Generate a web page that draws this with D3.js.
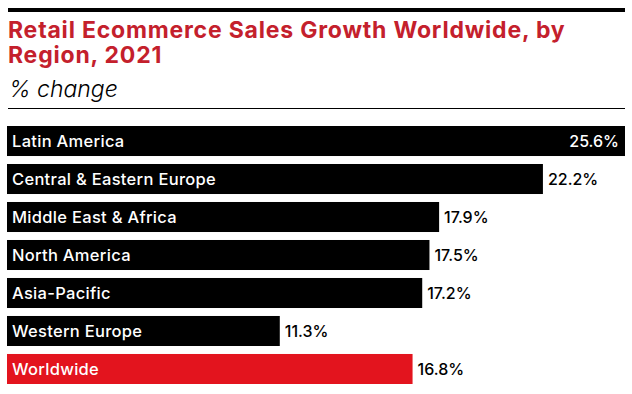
<!DOCTYPE html>
<html>
<head>
<meta charset="utf-8">
<script src="https://cdn.jsdelivr.net/npm/d3@7"></script>
<style>
  body { margin: 0; background: #fff; }
  svg { display: block; font-family: Inter, "Noto Sans", sans-serif; }
</style>
</head>
<body>
<div id="chart"></div>
<script>
const regions = ['Latin America', 'Central & Eastern Europe', 'Middle East & Africa',
  'North America', 'Asia-Pacific', 'Western Europe', 'Worldwide']
const growth = [25.6, 22.2, 17.9, 17.5, 17.2, 11.3, 16.8]

const width = 632
const height = 394
const RED = '#e3141e'
const TITLE_RED = '#c4202c'

const svg = d3.select('#chart')
  .append('svg')
    .attr('width', width)
    .attr('height', height)

// header
svg.append('rect')
  .attr('x', 8).attr('y', 8)
  .attr('width', 617).attr('height', 4)
  .attr('fill', '#000')

const title = svg.append('text')
  .attr('x', 8)
  .attr('fill', TITLE_RED)
  .style('font-size', '23px')
  .style('font-weight', 700)
  .style('letter-spacing', '0.8px')
title.append('tspan').attr('x', 8).attr('y', 38).text('Retail Ecommerce Sales Growth Worldwide, by')
title.append('tspan').attr('x', 8).attr('y', 63).text('Region, 2021')

svg.append('text')
  .attr('x', 9).attr('y', 97)
  .style('font-size', '23px')
  .style('font-style', 'italic')
  .style('font-weight', 300)
  .text('% change')

svg.append('rect')
  .attr('x', 8).attr('y', 108)
  .attr('width', 617).attr('height', 1)
  .attr('fill', '#000')

// bars
const data = regions.map((r, i) => ({ region: r, value: growth[i] }))

const x = d3.scaleLinear()
  .domain([0, 25.6])
  .range([7, 625])

const y = d3.scaleBand()
  .domain(regions)
  .range([126, 384])
  .paddingInner(0.21)
  .paddingOuter(0)

const row = svg.append('g')
  .selectAll('g')
  .data(data)
  .join('g')
    .attr('transform', d => `translate(0,${y(d.region)})`)

row.append('rect')
  .attr('x', x(0))
  .attr('width', d => x(d.value) - x(0))
  .attr('height', y.bandwidth())
  .attr('fill', d => d.region === 'Worldwide' ? RED : '#000')

row.append('text')
  .attr('x', 12)
  .attr('y', y.bandwidth() / 2)
  .attr('dy', '0.36em')
  .attr('fill', '#fff')
  .style('font-size', '16.5px')
  .style('font-weight', 500)
  .style('letter-spacing', '0.3px')
  .text(d => d.region)

// value labels, the longest bar keeps its label inside
const maxVal = d3.max(growth)
row.append('text')
  .attr('x', d => d.value === maxVal ? x(d.value) - 6 : x(d.value) + 5)
  .attr('y', y.bandwidth() / 2)
  .attr('dy', '0.36em')
  .attr('text-anchor', d => d.value === maxVal ? 'end' : 'start')
  .attr('fill', d => d.value === maxVal ? '#fff' : '#000')
  .style('font-size', '16px')
  .style('font-weight', 500)
  .text(d => d.value.toFixed(1) + '%')
</script>
</body>
</html>
